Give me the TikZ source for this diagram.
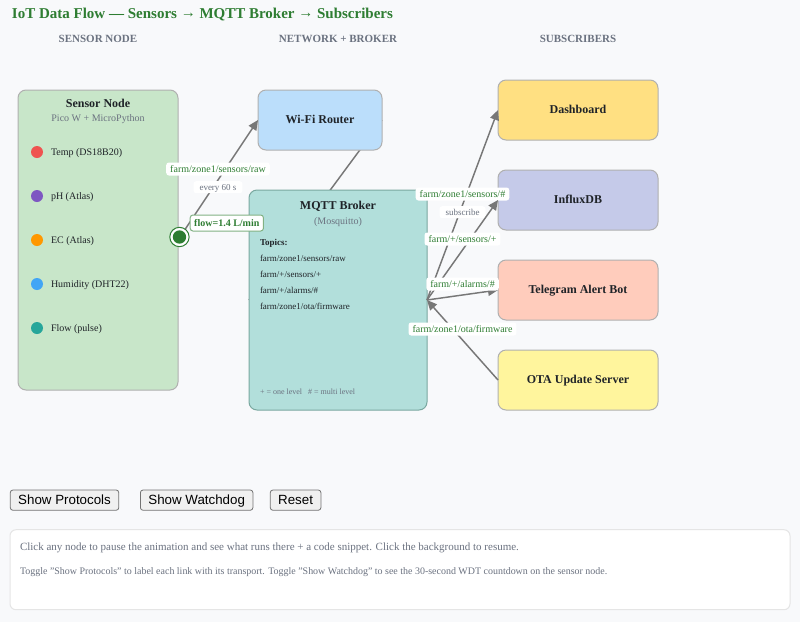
\documentclass[tikz,border=0pt]{standalone}
\usepackage{fontspec}
\setmainfont{Liberation Serif}
\setsansfont{Liberation Sans}
\usetikzlibrary{positioning}
\usetikzlibrary{arrows.meta}
\usetikzlibrary{backgrounds}
\usepackage{xcolor}

\definecolor{pagebg}{HTML}{F8F9FB}
\definecolor{cardline}{HTML}{B0B0B0}
\definecolor{leafgreen}{HTML}{2E7D32}
\definecolor{linegrey}{HTML}{777777}
\definecolor{headgrey}{HTML}{6B7280}
\definecolor{inkdark}{HTML}{1F2328}

\tikzset{
  card/.style={rectangle, draw=cardline, line width=0.75pt, rounded corners=6pt, outer sep=0pt, inner sep=0pt},
  subcard/.style={card, minimum width=120pt, minimum height=45pt, text height=6.5pt, text depth=2pt, font=\fontsize{9pt}{11pt}\selectfont\bfseries, text=inkdark},
  txt/.style={inner sep=0pt, outer sep=0pt, text=inkdark},
  cardtitle/.style={txt, text height=6.5pt, text depth=2pt, font=\fontsize{9pt}{11pt}\selectfont\bfseries},
  cardsub/.style={txt, text=headgrey, text height=6pt, text depth=1pt, font=\fontsize{7.5pt}{9pt}\selectfont},
  colhead/.style={txt, text=headgrey, font=\fontsize{8.25pt}{10pt}\selectfont\bfseries},
  item/.style={txt, text height=6pt, text depth=1pt, font=\fontsize{7.5pt}{9pt}\selectfont},
  topic/.style={txt, text height=5.5pt, text depth=1pt, font=\fontsize{6.75pt}{8pt}\selectfont},
  dot/.style={circle, minimum size=9pt, inner sep=0pt, outer sep=0pt},
  link/.style={draw=linegrey, line width=1.1pt},
  flowto/.style={link, -{Triangle[length=7.5pt,width=6.75pt]}},
  edgelabel/.style={fill=white, rounded corners=2pt, text=leafgreen, inner xsep=3pt, inner ysep=0pt, minimum height=9.75pt, text height=5.75pt, text depth=0.75pt, font=\fontsize{7.5pt}{9pt}\selectfont},
  edgenote/.style={fill=white, rounded corners=2pt, text=headgrey, inner xsep=4.5pt, inner ysep=0pt, minimum height=9pt, text height=5.75pt, text depth=0.75pt, font=\fontsize{6.75pt}{8pt}\selectfont},
  pushbtn/.style={rectangle, draw=black!55, fill=black!6, rounded corners=2pt, line width=0.6pt, inner sep=0pt, outer sep=0pt, minimum height=15.2pt, text height=8.5pt, text depth=1.7pt, font=\sffamily\fontsize{10pt}{12pt}\selectfont, text=black},
}

\begin{document}
\begin{tikzpicture}

    % Page
    \coordinate (page) at (0,0);
    \begin{scope}[on background layer]
      \path[use as bounding box, fill=pagebg] (page) rectangle (600pt,-466.5pt);
    \end{scope}

    % Headings
    \node[txt, text=leafgreen, font=\fontsize{11.25pt}{13pt}\selectfont\bfseries, below right=11pt and 9pt of page, anchor=west] (title) {IoT Data Flow — Sensors \raisebox{0.8pt}{→} MQTT Broker \raisebox{0.8pt}{→} Subscribers};

    % Define nodes
    \node[card, fill={rgb,255:red,200;green,230;blue,201}, minimum width=120pt, minimum height=225pt, below right=67.5pt and 13.5pt of page, anchor=north west] (sensor) {};
    \node[card, fill={rgb,255:red,187;green,222;blue,251}, minimum width=93pt, minimum height=45pt, text height=6.5pt, text depth=2pt, font=\fontsize{9pt}{11pt}\selectfont\bfseries, text=inkdark, right=60pt of sensor.north east, anchor=north west] (wifi) {Wi-Fi Router};
    \node[card, draw={rgb,255:red,122;green,168;blue,160}, fill={rgb,255:red,178;green,223;blue,219}, minimum width=133.5pt, minimum height=165pt, below right=30pt and -6.75pt of wifi.south west, anchor=north west] (broker) {};
    \node[subcard, fill={rgb,255:red,255;green,224;blue,130}, above right=7.5pt and 87pt of wifi.north east, anchor=north west] (dashboard) {Dashboard};
    \node[subcard, fill={rgb,255:red,197;green,202;blue,233}, below=22.5pt of dashboard] (influx) {InfluxDB};
    \node[subcard, fill={rgb,255:red,255;green,204;blue,188}, below=22.5pt of influx] (telegram) {Telegram Alert Bot};
    \node[subcard, fill={rgb,255:red,255;green,245;blue,157}, below=22.5pt of telegram] (ota) {OTA Update Server};

    \node[colhead, above=38.25pt of sensor.north, anchor=center] (headsensor) {SENSOR NODE};
    \node[colhead, above=113.25pt of broker.north, anchor=center] (headbroker) {NETWORK + BROKER};
    \node[colhead, above=30.75pt of dashboard.north, anchor=center] (headsubs) {SUBSCRIBERS};

    % Sensor node content
    \node[cardtitle, below=10.5pt of sensor.north, anchor=center] (sensortitle) {Sensor Node};
    \node[cardsub, below=10.5pt of sensortitle.center, anchor=center] (sensorsub) {Pico W + MicroPython};
    \node[dot, fill={rgb,255:red,239;green,83;blue,80}, below right=46.5pt and 14.25pt of sensor.north west, anchor=center] (dottemp) {};
    \node[dot, fill={rgb,255:red,126;green,87;blue,194}, below=24pt of dottemp] (dotph) {};
    \node[dot, fill={rgb,255:red,255;green,152;blue,0}, below=24pt of dotph] (dotec) {};
    \node[dot, fill={rgb,255:red,66;green,165;blue,245}, below=24pt of dotec] (dothum) {};
    \node[dot, fill={rgb,255:red,38;green,166;blue,154}, below=24pt of dothum] (dotflow) {};
    \node[item, right=6pt of dottemp] (temp) {Temp (DS18B20)};
    \node[item, right=6pt of dotph] (ph) {pH (Atlas)};
    \node[item, right=6pt of dotec] (ec) {EC (Atlas)};
    \node[item, right=6pt of dothum] (hum) {Humidity (DHT22)};
    \node[item, right=6pt of dotflow] (flowitem) {Flow (pulse)};

    % Broker content
    \node[cardtitle, below=12pt of broker.north, anchor=center] (brokertitle) {MQTT Broker};
    \node[cardsub, below=11.25pt of brokertitle.center, anchor=center] (brokersub) {(Mosquitto)};
    \node[topic, font=\fontsize{6.75pt}{8pt}\selectfont\bfseries, below right=39pt and 8.25pt of broker.north west, anchor=west] (topics) {Topics:};
    \node[topic, below=12pt of topics.west, anchor=west] (topicraw) {farm/zone1/sensors/raw};
    \node[topic, below=12pt of topicraw.west, anchor=west] (topicsens) {farm/+/sensors/+};
    \node[topic, below=12pt of topicsens.west, anchor=west] (topicalarm) {farm/+/alarms/\#};
    \node[topic, below=12pt of topicalarm.west, anchor=west] (topicota) {farm/zone1/ota/firmware};
    \node[topic, text=headgrey, font=\fontsize{6pt}{8pt}\selectfont, above right=14.25pt and 8.25pt of broker.south west, anchor=west] (topicnote) {+ = one level\ \ \ \# = multi level};

    % Connect the nodes
    \begin{scope}[on background layer]
      \draw[link] (wifi.east) -- (broker.west);
    \end{scope}
    \draw[flowto] (sensor.east) -- node[edgelabel, yshift=8.25pt] (labelraw) {farm/zone1/sensors/raw} node[edgenote, yshift=-5.4pt] (labelevery) {every 60 s} (wifi.west);
    \draw[flowto] (broker.east) -- node[edgelabel, yshift=8.25pt] (labeldash) {farm/zone1/sensors/\#} node[edgenote, yshift=-5.4pt] (labelsub) {subscribe} (dashboard.west);
    \draw[flowto] (broker.east) -- node[edgelabel, yshift=8.25pt] (labelinflux) {farm/+/sensors/+} (influx.west);
    \draw[flowto] (broker.east) -- node[edgelabel, yshift=8.25pt] (labelalarm) {farm/+/alarms/\#} (telegram.west);
    \draw[flowto] (ota.west) -- node[edgelabel, yshift=8.25pt] (labelota) {farm/zone1/ota/firmware} (broker.east);

    % Moving packet
    \node[circle, draw=leafgreen, fill=white, line width=0.75pt, minimum size=14.5pt, inner sep=0pt, above right=2.25pt and 1.1pt of sensor.east, anchor=center] (packetring) {};
    \node[circle, fill=leafgreen, minimum size=10pt, inner sep=0pt] at (packetring.center) (packet) {};
    \node[rectangle, draw=leafgreen!60, fill=white, line width=0.75pt, rounded corners=2pt, text=leafgreen, inner xsep=3pt, inner ysep=0pt, minimum height=12pt, font=\fontsize{7.5pt}{9pt}\selectfont\bfseries, above right=10.5pt and 7.7pt of packetring.center, anchor=west] (flowtag) {flow=1.4 L/min};

    % Buttons
    \node[pushbtn, minimum width=81.4pt, below right=367.5pt and 7.7pt of page, anchor=north west] (btnprotocols) {Show Protocols};
    \node[pushbtn, minimum width=84.4pt, right=16.2pt of btnprotocols] (btnwatchdog) {Show Watchdog};
    \node[pushbtn, minimum width=38pt, right=13pt of btnwatchdog] (btnreset) {Reset};

    % Info panel
    \node[rectangle, draw=black!10, fill=white, line width=0.75pt, rounded corners=4.5pt, minimum width=585pt, minimum height=60pt, inner sep=0pt, outer sep=0pt, below right=14.6pt and -0.2pt of btnprotocols.south west, anchor=north west] (panel) {};
    \node[cardsub, font=\fontsize{8.25pt}{10pt}\selectfont, below right=12.75pt and 7.5pt of panel.north west, anchor=west] (infoone) {Click any node to pause the animation and see what runs there + a code snippet. Click the background to resume.};
    \node[cardsub, font=\fontsize{7.47pt}{9pt}\selectfont, below=18pt of infoone.west, anchor=west] (infotwo) {Toggle "Show Protocols" to label each link with its transport. Toggle "Show Watchdog" to see the 30-second WDT countdown on the sensor node.};

\end{tikzpicture}
\end{document}
